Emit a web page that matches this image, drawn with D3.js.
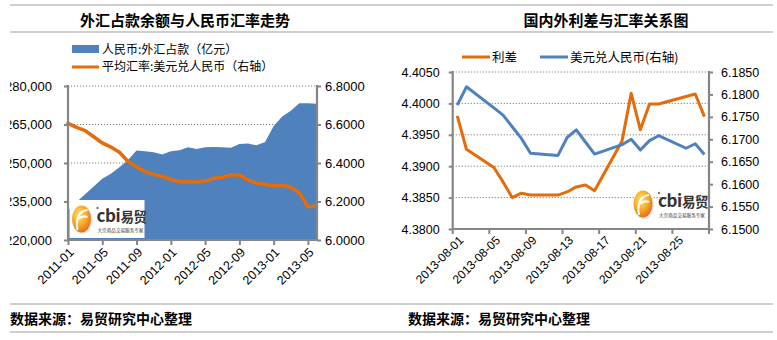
<!DOCTYPE html>
<html><head><meta charset="utf-8">
<script src="https://cdn.jsdelivr.net/npm/d3@7/dist/d3.min.js"></script>
<style>body{margin:0;background:#fff}svg{display:block}</style>
</head><body><svg id="c" width="777" height="340"></svg>
<script>
// ---------- Left chart data ----------
const months = ["2011-01","2011-02","2011-03","2011-04","2011-05","2011-06","2011-07","2011-08","2011-09","2011-10","2011-11","2011-12",
  "2012-01","2012-02","2012-03","2012-04","2012-05","2012-06","2012-07","2012-08","2012-09","2012-10","2012-11","2012-12",
  "2013-01","2013-02","2013-03","2013-04","2013-05","2013-06"];
const fxHoldings = [231500,234800,237800,240800,243850,245800,248300,251150,254900,254600,254200,253350,
  254600,255000,256150,255500,256100,256250,256150,255900,257400,257600,256900,258200,
  264400,268100,270400,273300,273300,273100];
const usdCnyMonthly = [6.606,6.585,6.568,6.536,6.504,6.483,6.456,6.408,6.380,6.355,6.341,6.330,
  6.314,6.303,6.302,6.301,6.306,6.320,6.325,6.339,6.337,6.312,6.295,6.289,
  6.281,6.284,6.274,6.245,6.173,6.177];
const monthTicks = ["2011-01","2011-05","2011-09","2012-01","2012-05","2012-09","2013-01","2013-05"];
const fxTicks = [220000,235000,250000,265000,280000];
const monthlyRateTicks = [6.0,6.2,6.4,6.6,6.8];
const leftTitle = "外汇占款余额与人民币汇率走势";
const leftLegend = ["人民币:外汇占款（亿元）","平均汇率:美元兑人民币（右轴）"];

// ---------- Right chart data ----------
const days = d3.range(1,29).map(d => "2013-08-" + String(d).padStart(2,"0"));
const spread = [4.3980,4.3927,null,null,4.3898,4.3875,4.3850,4.3857,4.3854,null,null,4.3854,4.3859,4.3867,
  4.3870,4.3861,null,null,4.3940,4.4016,4.3958,4.3999,4.3999,null,null,4.4011,4.4015,4.3979];
const usdCnyDaily = [6.1776,6.1817,null,null,6.1770,6.1754,6.1728,6.1702,6.1669,null,null,6.1664,6.1704,6.1721,
  6.1694,6.1667,null,null,6.1688,6.1700,6.1676,6.1697,6.1708,null,null,6.1680,6.1690,6.1666];
const dayTicks = ["2013-08-01","2013-08-05","2013-08-09","2013-08-13","2013-08-17","2013-08-21","2013-08-25"];
const spreadTicks = [4.3800,4.3850,4.3900,4.3950,4.4000,4.4050];
const dailyRateTicks = [6.1500,6.1550,6.1600,6.1650,6.1700,6.1750,6.1800,6.1850];
const rightTitle = "国内外利差与汇率关系图";
const rightLegend = ["利差","美元兑人民币(右轴)"];
const footer = "数据来源：易贸研究中心整理";

// ---------- styles ----------
const BLUE = "#4F81BD", ORANGE = "#E46C0A", AXIS = "#868686", RULE = "#BFBFBF";
const NUM = "'Liberation Sans', Arial, sans-serif";
const CJK = "'Noto Sans CJK SC', 'Noto Sans', sans-serif";

const svg = d3.select("#c");
svg.append("rect").attr("width",777).attr("height",340).attr("fill","#fff");
const defs = svg.append("defs");
const gr = defs.append("radialGradient").attr("id","eggGrad").attr("cx","40%").attr("cy","35%").attr("r","70%");
gr.append("stop").attr("offset","0%").attr("stop-color","#FFE27A");
gr.append("stop").attr("offset","55%").attr("stop-color","#F7A823");
gr.append("stop").attr("offset","100%").attr("stop-color","#E2661A");
defs.append("clipPath").attr("id","leftClipLocal").append("rect").attr("x",-58).attr("y",0).attr("width",80).attr("height",300);

// frame rules
[5,32,304,332].forEach(y => svg.append("line").attr("x1",10).attr("x2",773).attr("y1",y).attr("y2",y)
  .attr("stroke",RULE).attr("stroke-width",1.5));

// titles
svg.append("text").attr("x",185).attr("y",19).attr("text-anchor","middle").attr("dominant-baseline","central")
  .attr("font-family",CJK).attr("font-weight",700).attr("font-size",15).text(leftTitle);
svg.append("text").attr("x",606).attr("y",19).attr("text-anchor","middle").attr("dominant-baseline","central")
  .attr("font-family",CJK).attr("font-weight",700).attr("font-size",15).text(rightTitle);
// footers
[10,408].forEach(x => svg.append("text").attr("x",x).attr("y",318).attr("dominant-baseline","central")
  .attr("font-family",CJK).attr("font-weight",700).attr("font-size",14).text(footer));

function logo(g, x, y, box){
  if (box) g.append("rect").attr("x",x).attr("y",y).attr("width",75).attr("height",38).attr("fill","#fff");
  const ex = x+12, ey = y+19;
  g.append("ellipse").attr("cx",ex+1).attr("cy",ey+1).attr("rx",10).attr("ry",14).attr("fill","#e6e6e6");
  g.append("ellipse").attr("cx",ex).attr("cy",ey).attr("rx",9.5).attr("ry",13.5).attr("fill","url(#eggGrad)");
  g.append("path").attr("d",`M${ex-4},${ey+11} C${ex-6},${ey} ${ex-3},${ey-8} ${ex+6},${ey-9} M${ex-3},${ey} C${ex},${ey-3} ${ex+3},${ey-3} ${ex+6},${ey-2}`)
    .attr("fill","none").attr("stroke","#fff").attr("stroke-width",2.2).attr("opacity",0.9);
  g.append("circle").attr("cx",x+28).attr("cy",y+8).attr("r",1.2).attr("fill","#777");
  const t = g.append("text").attr("x",x+27).attr("y",y+22).attr("font-family",CJK).attr("font-weight",700)
    .attr("fill","#333").attr("letter-spacing",-0.4);
  t.append("tspan").attr("font-size",17).text("cbi");
  t.append("tspan").attr("font-size",13.5).text("易贸");
  g.append("text").attr("x",x+28).attr("y",y+32).attr("font-family",CJK).attr("font-size",4.6)
    .attr("fill","#333").text("大宗商品交易服务专家");
}

// ================= LEFT CHART =================
(function(){
  const g = svg.append("g");
  const x = d3.scalePoint().domain(months).range([68,316.5]);
  const yL = d3.scaleLinear().domain([220000,280000]).range([240,86]);
  const yR = d3.scaleLinear().domain([6.0,6.8]).range([240,86]);

  // legend
  g.append("rect").attr("x",72).attr("y",45).attr("width",27).attr("height",8).attr("fill",BLUE);
  g.append("text").attr("x",102).attr("y",48).attr("dominant-baseline","central").attr("font-family",CJK).attr("font-size",12).text(leftLegend[0]);
  g.append("line").attr("x1",72).attr("x2",99).attr("y1",67).attr("y2",67).attr("stroke",ORANGE).attr("stroke-width",3);
  g.append("text").attr("x",102).attr("y",65.5).attr("dominant-baseline","central").attr("font-family",CJK).attr("font-size",12).text(leftLegend[1]);

  // gridlines
  g.selectAll(".gl").data(fxTicks.slice(1)).join("line")
    .attr("x1",68).attr("x2",317).attr("y1",d=>yL(d)).attr("y2",d=>yL(d))
    .attr("stroke","#808080").attr("stroke-width",1).attr("stroke-dasharray","1.2,1.8");

  // area
  const area = d3.area().x((d,i)=>x(months[i])).y0(yL(220000)).y1(d=>yL(d));
  g.append("path").datum(fxHoldings).attr("d",area).attr("fill",BLUE);

  // logo
  logo(g,69.5,200,true);

  // line
  const line = d3.line().x((d,i)=>x(months[i])).y(d=>yR(d));
  g.append("path").datum(usdCnyMonthly).attr("d",line).attr("fill","none").attr("stroke",ORANGE)
    .attr("stroke-width",3.6).attr("stroke-linejoin","round").attr("stroke-linecap","round");

  // axes
  const axL = g.append("g").attr("transform","translate(68,0)")
    .call(d3.axisLeft(yL).tickValues(fxTicks).tickFormat(d3.format(",")).tickSize(4).tickPadding(12).tickSizeOuter(0));
  axL.select(".domain").remove();
  axL.selectAll("text").attr("font-family",NUM).attr("font-size",13).attr("fill","#000");
  axL.attr("clip-path","url(#leftClipLocal)");

  const axR = g.append("g").attr("transform","translate(317,0)")
    .call(d3.axisRight(yR).tickValues(monthlyRateTicks).tickFormat(d3.format(".4f")).tickSize(4).tickPadding(4).tickSizeOuter(0));
  axR.select(".domain").remove();
  axR.selectAll("text").attr("font-family",NUM).attr("font-size",13).attr("fill","#000");

  const axB = g.append("g").attr("transform","translate(0,240)")
    .call(d3.axisBottom(x).tickValues(monthTicks).tickSize(5).tickSizeOuter(0));
  axB.select(".domain").remove();
  axB.selectAll("text").attr("font-family",NUM).attr("font-size",12.5).attr("fill","#000")
    .attr("y",0).attr("dy","0.35em").attr("text-anchor","end").attr("transform","translate(3,10) rotate(-45)");

  [axL,axR,axB].forEach(a => a.selectAll(".tick line").attr("stroke",AXIS).attr("stroke-width",2));
  g.append("line").attr("x1",68).attr("x2",68).attr("y1",85).attr("y2",241).attr("stroke",AXIS).attr("stroke-width",2.2);
  g.append("line").attr("x1",317).attr("x2",317).attr("y1",85).attr("y2",241).attr("stroke",AXIS).attr("stroke-width",2.2);
  g.append("line").attr("x1",67).attr("x2",318).attr("y1",240).attr("y2",240).attr("stroke",AXIS).attr("stroke-width",2.2);
})();

// ================= RIGHT CHART =================
(function(){
  const g = svg.append("g");
  const xb = d3.scaleBand().domain(days).range([452.7,709]).padding(0);
  const cx = d => xb(d) + xb.bandwidth()/2;
  const yS = d3.scaleLinear().domain([4.38,4.405]).range([229,72]);
  const yC = d3.scaleLinear().domain([6.15,6.185]).range([229,72]);

  // legend
  g.append("line").attr("x1",462).attr("x2",490).attr("y1",57).attr("y2",57).attr("stroke",ORANGE).attr("stroke-width",3);
  g.append("text").attr("x",492).attr("y",56).attr("dominant-baseline","central").attr("font-family",CJK).attr("font-size",12.5).text(rightLegend[0]);
  g.append("line").attr("x1",540).attr("x2",568).attr("y1",57).attr("y2",57).attr("stroke",BLUE).attr("stroke-width",3);
  g.append("text").attr("x",570).attr("y",56).attr("dominant-baseline","central").attr("font-family",CJK).attr("font-size",12.5).text(rightLegend[1]);

  // gridlines
  g.selectAll(".gl").data(spreadTicks.slice(1)).join("line")
    .attr("x1",452.7).attr("x2",709).attr("y1",d=>yS(d)).attr("y2",d=>yS(d))
    .attr("stroke","#808080").attr("stroke-width",1).attr("stroke-dasharray","1.2,1.8");

  logo(g,631,185,false);

  const pts = (vals) => days.map((d,i)=>[d,vals[i]]).filter(p=>p[1]!=null);
  const lineS = d3.line().x(p=>cx(p[0])).y(p=>yS(p[1]));
  const lineC = d3.line().x(p=>cx(p[0])).y(p=>yC(p[1]));
  g.append("path").datum(pts(spread)).attr("d",lineS).attr("fill","none").attr("stroke",ORANGE)
    .attr("stroke-width",3).attr("stroke-linejoin","round");
  g.append("path").datum(pts(usdCnyDaily)).attr("d",lineC).attr("fill","none").attr("stroke",BLUE)
    .attr("stroke-width",3).attr("stroke-linejoin","round");

  // axes
  const axL = g.append("g").attr("transform","translate(452.7,0)")
    .call(d3.axisLeft(yS).tickValues(spreadTicks).tickFormat(d3.format(".4f")).tickSize(4).tickPadding(9).tickSizeOuter(0));
  axL.select(".domain").remove();
  axL.selectAll("text").attr("font-family",NUM).attr("font-size",12.5).attr("fill","#000");
  const axR = g.append("g").attr("transform","translate(709,0)")
    .call(d3.axisRight(yC).tickValues(dailyRateTicks).tickFormat(d3.format(".4f")).tickSize(4).tickPadding(8).tickSizeOuter(0));
  axR.select(".domain").remove();
  axR.selectAll("text").attr("font-family",NUM).attr("font-size",12.5).attr("fill","#000");
  [axL,axR].forEach(a => a.selectAll(".tick line").attr("stroke",AXIS).attr("stroke-width",2));

  // bottom ticks at category boundaries every 4 days
  const bounds = dayTicks.map(t=>xb(t)).concat([xb.range()[1]]);
  g.selectAll(".bt").data(bounds).join("line").attr("x1",d=>d).attr("x2",d=>d).attr("y1",229).attr("y2",234)
    .attr("stroke",AXIS).attr("stroke-width",2);
  g.selectAll(".bl").data(dayTicks).join("text")
    .attr("transform",d=>`translate(${cx(d)+4},${238}) rotate(-45)`)
    .attr("text-anchor","end").attr("dy","0.35em").attr("font-family",NUM).attr("font-size",12).text(d=>d);

  g.append("line").attr("x1",452.7).attr("x2",452.7).attr("y1",71).attr("y2",230).attr("stroke",AXIS).attr("stroke-width",2.2);
  g.append("line").attr("x1",709).attr("x2",709).attr("y1",71).attr("y2",230).attr("stroke",AXIS).attr("stroke-width",2.2);
  g.append("line").attr("x1",451.7).attr("x2",710).attr("y1",229).attr("y2",229).attr("stroke",AXIS).attr("stroke-width",2.2);
})();
</script></body></html>
